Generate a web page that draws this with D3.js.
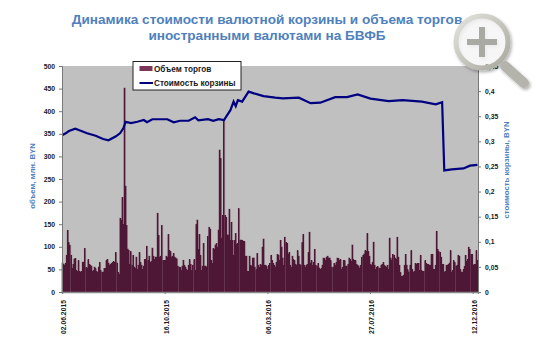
<!DOCTYPE html>
<html><head><meta charset="utf-8">
<script src="https://cdn.jsdelivr.net/npm/d3@7/dist/d3.min.js"></script>
<style>html,body{margin:0;padding:0;background:#fff}svg{display:block}text{font-family:"Liberation Sans",Arial,sans-serif}</style>
</head><body><svg id="c" width="550" height="361"></svg>
<script>
const titleLines = ["Динамика стоимости валютной корзины и объема торгов","иностранными валютами на БВФБ"];
const leftTitle = "объем, млн. BYN";
const rightTitle = "стоимость корзины, BYN";
const legendLabels = ["Объем торгов","Стоимость корзины"];
const dateLabels = ["02.06.2015","16.10.2015","06.03.2016","27.07.2016","12.12.2016"];
const dateIndex = [0,96,192,288,384];
const leftTicks = [0,50,100,150,200,250,300,350,400,450,500];
const rightTicks = [0,0.05,0.1,0.15,0.2,0.25,0.3,0.35,0.4,0.45];
const volume = [
65,62,60,64,82,137,110,104,82,53,62,74,75,48,
46,70,46,45,46,67,66,97,55,54,72,62,60,58,
46,48,56,52,46,44,56,66,48,44,45,53,52,70,
73,65,60,62,64,66,68,66,88,65,44,40,164,160,
210,150,452,235,148,96,93,62,90,60,82,56,52,78,
50,60,88,66,60,50,58,72,72,102,70,80,66,68,
98,80,72,78,78,175,126,78,80,148,70,70,70,80,
78,128,92,90,78,80,86,78,76,74,58,56,55,48,
58,71,60,56,50,48,60,72,62,48,60,72,48,150,
160,95,128,82,48,58,108,58,58,56,124,144,140,70,
64,97,95,105,108,100,138,315,296,120,170,382,170,165,
127,127,184,115,155,115,82,115,130,107,108,185,115,116,
115,113,112,80,80,46,46,80,60,58,76,76,56,50,
86,60,55,62,60,100,118,60,60,57,50,60,64,82,
70,64,60,56,66,84,82,70,115,100,76,60,122,110,
108,85,88,60,55,80,72,70,62,60,92,80,62,60,
110,128,60,56,60,62,88,133,65,70,60,66,95,60,
58,64,54,50,52,60,76,75,70,78,80,76,76,70,
55,56,64,60,66,76,75,70,72,50,55,70,70,58,
58,62,76,72,68,105,72,70,70,62,60,58,52,60,
78,82,85,92,90,130,90,80,62,60,66,111,60,50,
56,57,54,52,60,62,66,60,57,55,60,50,120,76,
70,84,82,76,72,122,78,60,44,35,36,38,60,84,
60,50,45,60,92,50,45,46,64,62,64,64,48,82,
48,46,46,70,64,62,62,60,60,84,84,50,50,60,
135,95,90,88,78,62,62,45,46,60,60,62,65,92,
45,48,70,66,58,60,82,80,50,45,44,50,57,82,
68,72,100,95,84,84,60,62,62,92,70];
const basketIndex = [0,3,6,12,17,23,31,38,43,50,54,57,59,64,70,76,79,84,98,104,110,118,124,127,136,141,146,151,157,160,162,164,168,174,179,188,199,206,221,232,241,255,266,276,288,305,318,336,349,355,357,364,375,381,388];
const basketValue = [.3126,.316,.3206,.325,.321,.316,.311,.3047,.302,.31,.3166,.3265,.339,.3365,.339,.3425,.338,.344,.344,.338,.341,.341,.348,.342,.344,.341,.344,.3425,.362,.379,.37,.382,.379,.399,.3955,.39,.387,.3855,.387,.376,.377,.388,.388,.3935,.385,.38,.382,.379,.3737,.378,.242,.244,.246,.2515,.253];

const svg = d3.select("#c");
const L=62,R=478,T=66,B=292;
const x = d3.scaleBand().domain(d3.range(volume.length)).range([L,R]);
const yL = d3.scaleLinear().domain([0,500]).range([B,T]);
const yR = d3.scaleLinear().domain([0,0.45]).range([B,T]);
const blue="#4F81BD", ink="#1a1a1a";

svg.selectAll(".t").data(titleLines).join("text")
  .attr("x",267).attr("y",(d,i)=>24+i*15.5).attr("text-anchor","middle")
  .attr("font-size",13.6).attr("font-weight","bold").attr("fill",blue).text(d=>d);

svg.append("rect").attr("x",L).attr("y",T).attr("width",R-L).attr("height",B-T).attr("fill","#C0C0C0");

// soft halo under the bars
svg.append("g").selectAll("rect").data(volume).join("rect")
  .attr("x",(d,i)=>x(i)-0.5).attr("width",2.1).attr("y",d=>yL(d)).attr("height",d=>B-yL(d))
  .attr("fill","#541A3A").attr("fill-opacity",.62);
svg.append("g").selectAll("rect").data(volume).join("rect")
  .attr("x",(d,i)=>x(i)).attr("width",1).attr("y",d=>yL(d)).attr("height",d=>B-yL(d))
  .attr("fill","#4E1736").attr("shape-rendering","crispEdges");

const line = d3.line().x((d,i)=>x(basketIndex[i])+0.5).y(d=>yR(d));
svg.append("path").datum(basketValue).attr("d",line).attr("fill","none").attr("stroke","#000080").attr("stroke-width",2.2);

function styleAxis(g){
  g.selectAll("text").attr("font-size",6.8).attr("font-weight","bold").attr("fill",ink);
  g.selectAll("line,path").attr("stroke","#777");
}
svg.append("g").attr("transform",`translate(${L},0)`).call(d3.axisLeft(yL).tickValues(leftTicks).tickSize(3).tickPadding(4)).call(styleAxis);
svg.append("g").attr("transform",`translate(${R},0)`).call(d3.axisRight(yR).tickValues(rightTicks).tickSize(3).tickPadding(4)
  .tickFormat(d=>String(+d.toFixed(2)).replace(".",","))).call(styleAxis);
const xa = svg.append("g").attr("transform",`translate(0,${B})`).call(d3.axisBottom(x).tickValues(dateIndex).tickSize(2)
  .tickFormat((d,i)=>dateLabels[i])).call(styleAxis);
xa.selectAll("text").attr("text-anchor","end").attr("transform","rotate(-90)").attr("x",-8).attr("y",1).attr("dy","0.35em");
xa.select("path").attr("stroke","#888").attr("stroke-width",1.4);

svg.append("text").attr("transform","translate(35,176) rotate(-90)").attr("text-anchor","middle")
  .attr("font-size",7.8).attr("font-weight","bold").attr("fill",blue).text(leftTitle);
svg.append("text").attr("transform","translate(509,170) rotate(-90)").attr("text-anchor","middle")
  .attr("font-size",7.8).attr("font-weight","bold").attr("fill",blue).text(rightTitle);

const lg = svg.append("g").attr("transform","translate(133,61.5)");
lg.append("rect").attr("width",108).attr("height",28.5).attr("fill","#fff").attr("stroke","#222").attr("stroke-width",1);
lg.append("rect").attr("x",6.5).attr("y",4.5).attr("width",13).attr("height",5).attr("fill","#7A3558");
lg.append("line").attr("x1",6.5).attr("x2",20).attr("y1",21.5).attr("y2",21.5).attr("stroke","#000080").attr("stroke-width",2);
lg.selectAll("text").data(legendLabels).join("text").attr("x",21).attr("y",(d,i)=>10+i*14.2)
  .attr("font-size",8.2).attr("font-weight","bold").attr("fill",ink).text(d=>d);

// magnifier icon
const defs = svg.append("defs");
const f = defs.append("filter").attr("id","sh").attr("x","-30%").attr("y","-30%").attr("width","160%").attr("height","160%");
f.append("feDropShadow").attr("dx",1.5).attr("dy",2).attr("stdDeviation",1.5).attr("flood-color","#000").attr("flood-opacity",.3);
const g1 = defs.append("linearGradient").attr("id","ring").attr("x1",0).attr("y1",0).attr("x2",1).attr("y2",1);
g1.append("stop").attr("offset",0).attr("stop-color","#e4e4de");
g1.append("stop").attr("offset",1).attr("stop-color","#a8a89f");
const m = svg.append("g").attr("filter","url(#sh)");
m.append("line").attr("x1",505).attr("y1",66).attr("x2",524).attr("y2",83).attr("stroke","#b4b4ad").attr("stroke-width",10).attr("stroke-linecap","round");
m.append("circle").attr("cx",482).attr("cy",42).attr("r",26).attr("fill","#fff").attr("fill-opacity",.45).attr("stroke","url(#ring)").attr("stroke-width",5);
m.append("path").attr("d","M482 27V57M467 42H497").attr("stroke","#aaaaa4").attr("stroke-width",6).attr("fill","none");
</script></body></html>
